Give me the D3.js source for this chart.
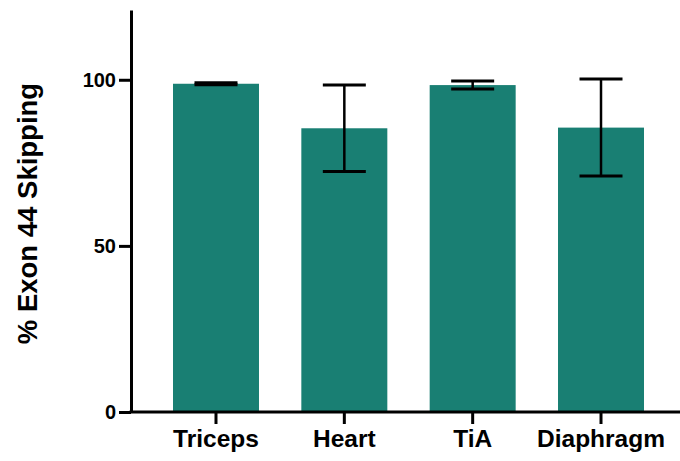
<!DOCTYPE html>
<html>
<head>
<meta charset="utf-8">
<script src="https://cdn.jsdelivr.net/npm/d3@7"></script>
<style>
  html, body { margin: 0; padding: 0; background: #fff; }
  svg { display: block; }
</style>
</head>
<body>
<svg id="chart" width="680" height="461"></svg>
<script>
const categories = ["Triceps", "Heart", "TiA", "Diaphragm"];
const means = [98.8, 85.4, 98.4, 85.6];
const errors = [0.3, 13.0, 1.2, 14.6];
const yTicks = [0, 50, 100];
const yLabel = "% Exon 44 Skipping";

const svg = d3.select("#chart");
const font = "'Liberation Sans', Arial, Helvetica, sans-serif";
const barColor = "#197f73";

const y = d3.scaleLinear().domain([0, 121]).range([412, 10]);
const x = d3.scaleBand().domain(categories).range([173, 644]).paddingInner(0.33).paddingOuter(0);

// bars
svg.append("g").selectAll("rect").data(categories).join("rect")
  .attr("x", d => x(d))
  .attr("width", x.bandwidth())
  .attr("y", (d, i) => y(means[i]))
  .attr("height", (d, i) => y(0) - y(means[i]))
  .attr("fill", barColor);

// error bars
const capHalf = x.bandwidth() / 4;
const eb = svg.append("g").attr("stroke", "#000").attr("stroke-width", 3).attr("fill", "none");
categories.forEach((c, i) => {
  const cx = x(c) + x.bandwidth() / 2;
  const hi = y(means[i] + errors[i]);
  const lo = y(means[i] - errors[i]);
  eb.append("line").attr("x1", cx).attr("x2", cx).attr("y1", hi).attr("y2", lo).attr("stroke-width", 2.5);
  eb.append("line").attr("x1", cx - capHalf).attr("x2", cx + capHalf).attr("y1", hi).attr("y2", hi);
  eb.append("line").attr("x1", cx - capHalf).attr("x2", cx + capHalf).attr("y1", lo).attr("y2", lo);
});

// y axis
const yAxis = svg.append("g").attr("transform", "translate(131,0)")
  .call(d3.axisLeft(y).tickValues(yTicks).tickSize(12).tickSizeOuter(0).tickPadding(3));
yAxis.select(".domain").attr("stroke", "#000").attr("stroke-width", 3);
yAxis.selectAll(".tick line").attr("stroke", "#000").attr("stroke-width", 3);
yAxis.selectAll(".tick text").attr("font-family", font).attr("font-weight", "bold")
  .attr("font-size", 20).attr("fill", "#000");

// x axis
const xAxis = svg.append("g").attr("transform", "translate(0,412)")
  .call(d3.axisBottom(x).tickSize(12).tickSizeOuter(0).tickPadding(6));
xAxis.select(".domain").remove();
xAxis.selectAll(".tick line").attr("stroke", "#000").attr("stroke-width", 3);
xAxis.selectAll(".tick text").attr("font-family", font).attr("font-weight", "bold")
  .attr("font-size", 24.5).attr("fill", "#000");
svg.append("line").attr("x1", 129.5).attr("x2", 680).attr("y1", 412).attr("y2", 412)
  .attr("stroke", "#000").attr("stroke-width", 3);

// y label
svg.append("text")
  .attr("transform", "translate(37,213.5) rotate(-90)")
  .attr("text-anchor", "middle")
  .attr("font-family", font).attr("font-weight", "bold").attr("font-size", 27.5)
  .attr("fill", "#000")
  .text(yLabel);
</script>
</body>
</html>
